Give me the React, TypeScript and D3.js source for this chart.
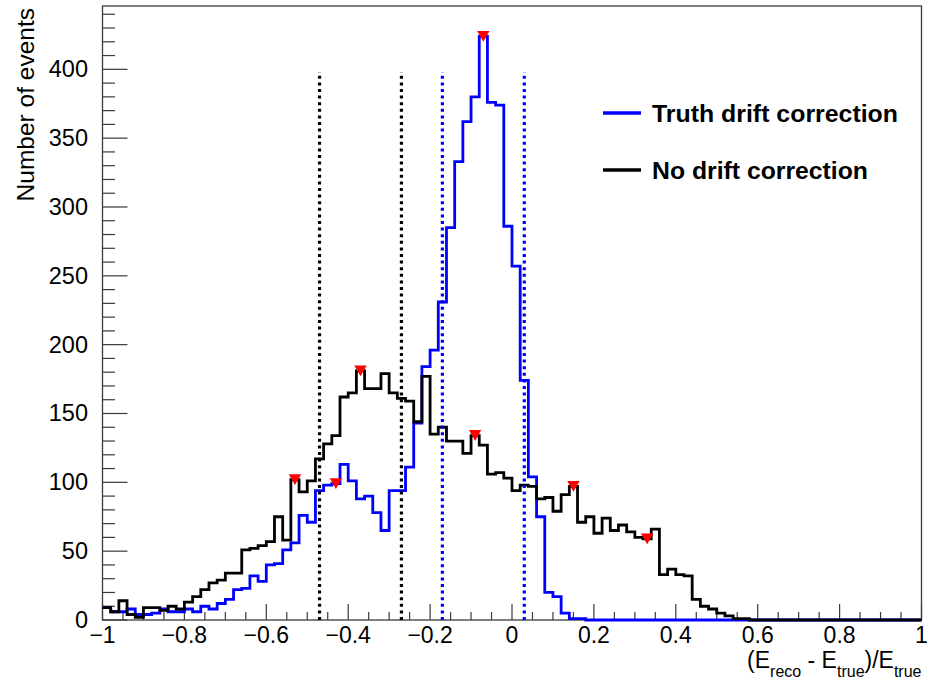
import React from 'react';
import * as d3 from 'd3';

// Histogram binning: 100 bins from -1 to 1
const X_MIN = -1;
const X_MAX = 1;
const Y_MAX = 446;
const N_BINS = 100;

// "No drift correction" (black)
const noDrift = [
  9, 6, 14, 4, 2, 9, 9, 7, 10, 8,
  13, 17, 22, 27, 29, 34, 34, 51, 52, 54,
  57, 75, 58, 102, 93, 101, 117, 128, 134, 162,
  165, 181, 168, 168, 179, 165, 161, 159, 144, 177,
  135, 140, 130, 130, 121, 134, 127, 106, 107, 103,
  94, 98, 97, 88, 89, 79, 91, 97, 71, 75,
  63, 74, 65, 69, 64, 60, 59, 66, 33, 37,
  33, 32, 15, 10, 8, 5, 3, 1, 1, 0,
  0, 0, 0, 0, 0, 0, 0, 0, 0, 0,
  0, 0, 0, 0, 0, 0, 0, 0, 0, 0,
];

// "Truth drift correction" (blue)
const truthDrift = [
  9, 6, 6, 8, 4, 4, 5, 8, 6, 6,
  8, 6, 10, 8, 12, 15, 22, 23, 32, 28,
  40, 41, 51, 56, 76, 71, 94, 98, 99, 113,
  101, 88, 90, 78, 65, 94, 94, 111, 143, 184,
  196, 231, 285, 333, 362, 380, 424, 376, 374, 286,
  257, 174, 104, 75, 20, 17, 5, 1, 1, 0,
  0, 0, 0, 0, 0, 0, 0, 0, 0, 0,
  0, 0, 0, 0, 0, 0, 0, 0, 0, 0,
  0, 0, 0, 0, 0, 0, 0, 0, 0, 0,
  0, 0, 0, 0, 0, 0, 0, 0, 0, 0,
];

const xTickValues = [-1, -0.8, -0.6, -0.4, -0.2, 0, 0.2, 0.4, 0.6, 0.8, 1];
const xTickLabels = ['\u22121', '\u22120.8', '\u22120.6', '\u22120.4', '\u22120.2', '0', '0.2', '0.4', '0.6', '0.8', '1'];
const yTickValues = [0, 50, 100, 150, 200, 250, 300, 350, 400];
const yTickLabels = ['0', '50', '100', '150', '200', '250', '300', '350', '400'];

const blackCutLines = [-0.47, -0.27];
const blueCutLines = [-0.17, 0.03];
const CUT_LINE_TOP = 398;

const blackPeaks = [-0.53, -0.37, -0.09, 0.15, 0.33];
const bluePeaks = [-0.43, -0.07];

const legendLabels = ['Truth drift correction', 'No drift correction'];

const FONT = '"Liberation Sans", Arial, Helvetica, sans-serif';

const W = 938;
const H = 680;
const M = { left: 102.5, right: 921.5, top: 6, bottom: 620 };

export default function App() {
  const x = d3.scaleLinear().domain([X_MIN, X_MAX]).range([M.left, M.right]);
  const y = d3.scaleLinear().domain([0, Y_MAX]).range([M.bottom, M.top]);
  const bw = (X_MAX - X_MIN) / N_BINS;

  const stepPath = (vals: number[]) => {
    const pts: [number, number][] = vals.map((v, i) => [x(X_MIN + i * bw), y(v)]);
    pts.push([x(X_MAX), y(vals[vals.length - 1])]);
    return d3.line().curve(d3.curveStepAfter)(pts) || '';
  };

  const binValue = (vals: number[], xv: number) => {
    const i = Math.min(N_BINS - 1, Math.max(0, Math.floor((xv - X_MIN) / bw + 1e-6)));
    return vals[i];
  };

  const xMinor = d3.range(X_MIN, X_MAX + 1e-9, 0.05);
  const yMinor = d3.range(0, Y_MAX, 10);

  const tri = (cx: number, cy: number) => {
    const w = 6.2, h = 5.4;
    return `M${cx - w},${cy - h}L${cx + w},${cy - h}L${cx},${cy + h}Z`;
  };

  const axisColor = '#3a3a3a';

  return (
    <div style={{ position: 'absolute', left: 0, top: 0 }}>
      <svg width={W} height={H} style={{ display: 'block', background: '#fff' }} fontFamily={FONT}>
        <rect x={0} y={0} width={W} height={H} fill="#fff" />

        {/* x ticks */}
        {xMinor.map((v, i) => {
          const major = Math.abs(Math.round(v * 5) - v * 5) < 1e-6;
          return (
            <line key={'xt' + i} x1={x(v)} x2={x(v)} y1={M.bottom} y2={M.bottom - (major ? 16 : 8)}
              stroke={axisColor} strokeWidth={1.2} />
          );
        })}
        {/* y ticks */}
        {yMinor.map((v, i) => {
          const major = v % 50 === 0;
          return (
            <line key={'yt' + i} x1={M.left} x2={M.left + (major ? 25 : 12.5)} y1={y(v)} y2={y(v)}
              stroke={axisColor} strokeWidth={1.2} />
          );
        })}

        {/* frame */}
        <rect x={M.left} y={M.top} width={M.right - M.left} height={M.bottom - M.top}
          fill="none" stroke={axisColor} strokeWidth={1.3} />

        {/* histograms */}
        <path d={stepPath(truthDrift)} fill="none" stroke="#0000ff" strokeWidth={2.8} strokeLinejoin="miter" />
        <path d={stepPath(noDrift)} fill="none" stroke="#000000" strokeWidth={2.8} strokeLinejoin="miter" />

        {/* cut lines */}
        {blackCutLines.map((v, i) => (
          <line key={'bc' + i} x1={x(v)} x2={x(v)} y1={y(0)} y2={y(CUT_LINE_TOP)}
            stroke="#000" strokeWidth={3.2} strokeDasharray="3 3.6" />
        ))}
        {blueCutLines.map((v, i) => (
          <line key={'uc' + i} x1={x(v)} x2={x(v)} y1={y(0)} y2={y(CUT_LINE_TOP)}
            stroke="#0000ff" strokeWidth={3.2} strokeDasharray="3 3.6" />
        ))}

        {/* peak markers */}
        {blackPeaks.map((v, i) => (
          <path key={'bp' + i} d={tri(x(v), y(binValue(noDrift, v)))} fill="#ff0000" />
        ))}
        {bluePeaks.map((v, i) => (
          <path key={'up' + i} d={tri(x(v), y(binValue(truthDrift, v)))} fill="#ff0000" />
        ))}

        {/* x tick labels */}
        {xTickValues.map((v, i) => (
          <text key={'xl' + i} x={x(v)} y={643} textAnchor="middle" fontSize={23} fill="#000">
            {xTickLabels[i]}
          </text>
        ))}
        {/* y tick labels */}
        {yTickValues.map((v, i) => (
          <text key={'yl' + i} x={88} y={y(v) + 8} textAnchor="end" fontSize={23.5} fill="#000">
            {yTickLabels[i]}
          </text>
        ))}

        {/* axis titles */}
        <text transform={`translate(34,${M.top + 2}) rotate(-90)`} textAnchor="end" fontSize={24.5} fill="#000">
          Number of events
        </text>
        <text x={M.right} y={668} textAnchor="end" fontSize={23} fill="#000">
          (E<tspan fontSize={16} dy={9}>reco</tspan><tspan dy={-9}> - E</tspan><tspan fontSize={16} dy={9}>true</tspan><tspan dy={-9}>)/E</tspan><tspan fontSize={16} dy={9}>true</tspan>
        </text>

        {/* legend */}
        <line x1={603} x2={641} y1={113} y2={113} stroke="#0000ff" strokeWidth={3.5} />
        <text x={652} y={121.5} fontSize={24} fontWeight="bold" fill="#000"
          textLength={246} lengthAdjust="spacingAndGlyphs">{legendLabels[0]}</text>
        <line x1={603} x2={641} y1={170} y2={170} stroke="#000" strokeWidth={3.5} />
        <text x={652} y={178.5} fontSize={24} fontWeight="bold" fill="#000"
          textLength={216} lengthAdjust="spacingAndGlyphs">{legendLabels[1]}</text>
      </svg>
    </div>
  );
}
